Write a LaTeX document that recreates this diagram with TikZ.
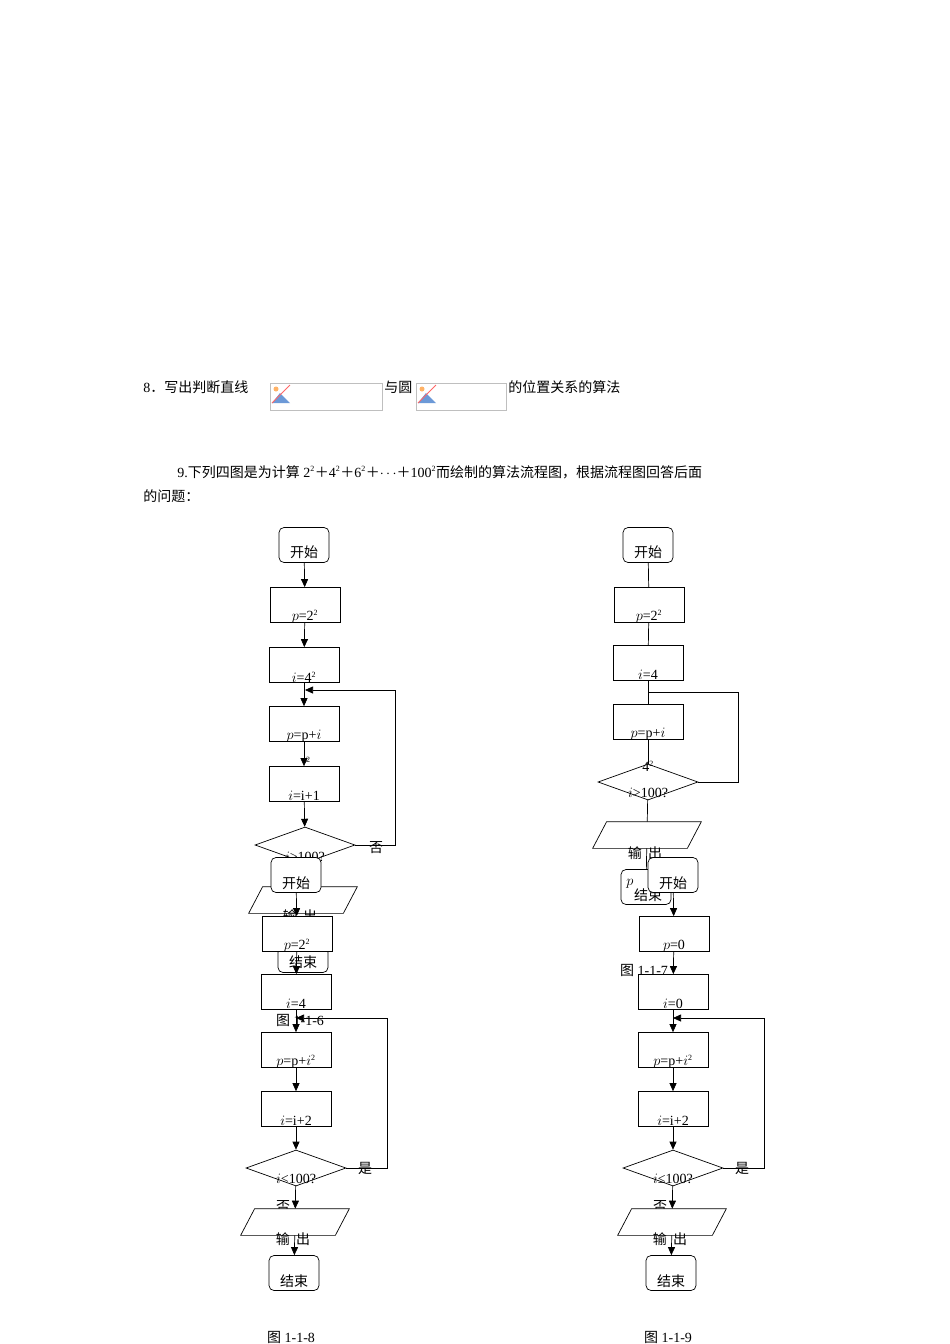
\documentclass[tikz,border=0pt]{standalone}
\usepackage{fontspec}
\setmainfont{Liberation Serif}
\newfontfamily\cjk{Noto Sans CJK SC}
\usetikzlibrary{shapes.geometric,arrows.meta}
\tikzset{
 term/.style={draw,fill=white,rounded corners=5pt,minimum width=50pt,minimum height=35pt,inner sep=0pt},
 proc/.style={draw,fill=white,minimum width=70pt,minimum height=35pt,inner sep=0pt},
 dec/.style={draw,fill=white,diamond,aspect=2.8,minimum width=100pt,minimum height=36pt,inner sep=0pt},
 io/.style={minimum width=80pt,minimum height=26pt,inner sep=0pt},
 lab/.style={inner sep=0pt,font=\fontsize{14}{16}\selectfont},
 flow/.style={-{Triangle[length=8pt,width=7pt]},line width=0.7pt},
 plain/.style={line width=0.7pt},
 every node/.append style={line width=0.7pt}
}
\newcommand\sq{\textsuperscript{\fontsize{8}{8}\selectfont 2}}
\newcommand\iodraw[1]{\filldraw[fill=white,line width=0.7pt] ([xshift=-14pt]#1.south west) -- (#1.south east) -- ([xshift=14pt]#1.north east) -- (#1.north west) -- cycle;}
\begin{document}
\begin{tikzpicture}[x=1pt,y=-1pt]
\useasboundingbox (0,0) rectangle (950,1344);
\fill[white] (0,0) rectangle (950,1344);
% header text
\node[lab,anchor=base west] (t8a) at (143,392) {8{\cjk ．写出判断直线}};
\node[draw=gray!50,minimum width=112pt,minimum height=27pt,inner sep=0pt] (im1) at (326,397) {};
\node[draw=gray!50,minimum width=90pt,minimum height=27pt,inner sep=0pt] (im2) at (461,397) {};
\foreach \x in {272,418}{\fill[cyan!50!blue!60] (\x,403)--(\x+8,393)--(\x+18,403)--cycle; \draw[red!60,line width=1pt](\x,403)--(\x+18,385);\fill[orange!60](\x+4,389) circle(2.5);}
\node[lab,anchor=base west] (t8b) at (384,392) {\cjk 与圆};
\node[lab,anchor=base west] (t8c) at (508,392) {\cjk 的位置关系的算法};
\node[lab,anchor=base west] (t9a) at (177,477) {9.{\cjk 下列四图是为计算} 2\sq{\cjk ＋}4\sq{\cjk ＋}6\sq{\cjk ＋}\(\cdots\){\cjk ＋}100\sq{\cjk 而绘制的算法流程图，根据流程图回答后面}};
\node[lab,anchor=base west] (t9b) at (143,501) {\cjk 的问题：};

% ===== chart 1-1-6
\node[term] (a1) at (304,545) {}; \node[lab] at (304,552) {\cjk 开始};
\node[proc] (a2) at (305,605) {}; \node[lab] at (305,617) {$p$=2\sq};
\node[proc] (a3) at (304,665) {}; \node[lab] at (304,677) {$i$=4\sq};
\node[proc] (a4) at (304,724) {}; \node[lab] at (304,736) {$p$=p+$i$};
\node[lab,font=\fontsize{8}{8}\selectfont] at (308,760) {2};
\node[proc] (a5) at (304,784) {}; \node[lab] at (304,796) {$i$=i+1};
\node[dec] (a6) at (305,845) {}; \node[lab] at (305,857) {$i$>100?};
\node[lab] at (376,848) {\cjk 否};
\node[io] (a7) at (303,900) {}; \iodraw{a7} \node[lab] at (300,916) {\cjk 输\ \ 出};
\node[term,minimum height=25pt] (a8) at (303,960) {}; \node[lab] at (303,962) {\cjk 结束};
\node[lab] at (300,1020) {{\cjk 图} 1-1-6};
\draw[flow] (a1)--(a2); \draw[flow] (a2)--(a3); \draw[flow] (a3)--(a4);
\draw[flow] (a4)--(a5); \draw[flow] (a5)--(a6);
\coordinate (a9) at (305,690);
\draw[flow] (a6.east) -| (395,690) -- (a9);

% ===== chart 1-1-7
\node[term] (b1) at (648,545) {}; \node[lab] at (648,552) {\cjk 开始};
\node[proc] (b2) at (649,605) {}; \node[lab] at (649,617) {$p$=2\sq};
\node[proc] (b3) at (648,663) {}; \node[lab] at (648,675) {$i$=4};
\node[proc] (b4) at (648,722) {}; \node[lab] at (648,734) {$p$=p+$i$};
\draw[plain] (b1)--(b2); \draw[plain] (b2)--(b3); \draw[plain] (b3)--(b4);
\node[dec] (b5) at (648,782) {}; \node[lab] at (648,793) {$i$>100?};
\draw[plain] (b4)--(b5);
\node[lab] at (648,766) {4\sq};
\draw[plain] (b5.east) -| (738,692) -- (648,692);
\node[io] (b6) at (647,835) {}; \iodraw{b6}
\draw[plain] (b5)--(b6);
\node[term] (b7) at (646,887) {};
\draw[plain] (b6)--(b7);
\node[lab] at (645,853) {\cjk 输\ \ 出};
\node[lab] at (630,884) {$p$}; \node[lab] at (648,895) {\cjk 结束};

% ===== chart 1-1-8
\node[term] (c1) at (296,875) {}; \node[lab] at (296,883) {\cjk 开始};
\node[proc] (c2) at (297,934) {}; \node[lab] at (297,946) {$p$=2\sq};
\node[proc] (c3) at (296,992) {}; \node[lab] at (296,1004) {$i$=4};
\node[proc] (c4) at (296,1050) {}; \node[lab] at (296,1062) {$p$=p+$i$\sq};
\node[proc] (c5) at (296,1109) {}; \node[lab] at (296,1121) {$i$=i+2};
\node[dec] (c6) at (296,1168) {}; \node[lab] at (296,1179) {$i$<100?};
\node[lab] at (365,1168) {\cjk 是};
\node[lab] at (283,1207) {\cjk 否};
\node[io] (c7) at (295,1222) {}; \iodraw{c7} \node[lab] at (293,1239) {\cjk 输\ \ 出};
\node[term] (c8) at (294,1273) {}; \node[lab] at (294,1281) {\cjk 结束};
\node[lab] at (291,1337) {{\cjk 图} 1-1-8};
\draw[flow] (c1)--(c2); \draw[flow] (c2)--(c3); \draw[flow] (c3)--(c4);
\draw[flow] (c4)--(c5); \draw[flow] (c5)--(c6); \draw[flow] (c6)--(c7); \draw[flow] (c7)--(c8);
\coordinate (c9) at (296,1018);
\draw[flow] (c6.east) -| (387,1018) -- (c9);

% ===== chart 1-1-9
\node[term] (d1) at (673,875) {}; \node[lab] at (673,883) {\cjk 开始};
\node[proc] (d2) at (674,934) {}; \node[lab] at (674,946) {$p$=0};
\node[proc] (d3) at (673,992) {}; \node[lab] at (673,1004) {$i$=0};
\node[proc] (d4) at (673,1050) {}; \node[lab] at (673,1062) {$p$=p+$i$\sq};
\node[proc] (d5) at (673,1109) {}; \node[lab] at (673,1121) {$i$=i+2};
\node[dec] (d6) at (673,1168) {}; \node[lab] at (673,1179) {$i$≤100?};
\node[lab] at (742,1168) {\cjk 是};
\node[lab] at (660,1207) {\cjk 否};
\node[io] (d7) at (672,1222) {}; \iodraw{d7} \node[lab] at (670,1239) {\cjk 输\ \ 出};
\node[term] (d8) at (671,1273) {}; \node[lab] at (671,1281) {\cjk 结束};
\node[lab] at (668,1337) {{\cjk 图} 1-1-9};
\draw[flow] (d1)--(d2); \draw[flow] (d2)--(d3); \draw[flow] (d3)--(d4);
\draw[flow] (d4)--(d5); \draw[flow] (d5)--(d6); \draw[flow] (d6)--(d7); \draw[flow] (d7)--(d8);
\coordinate (d9) at (673,1018);
\draw[flow] (d6.east) -| (764,1018) -- (d9);
\node[lab] at (644,970) {{\cjk 图} 1-1-7};
\end{tikzpicture}
\end{document}
